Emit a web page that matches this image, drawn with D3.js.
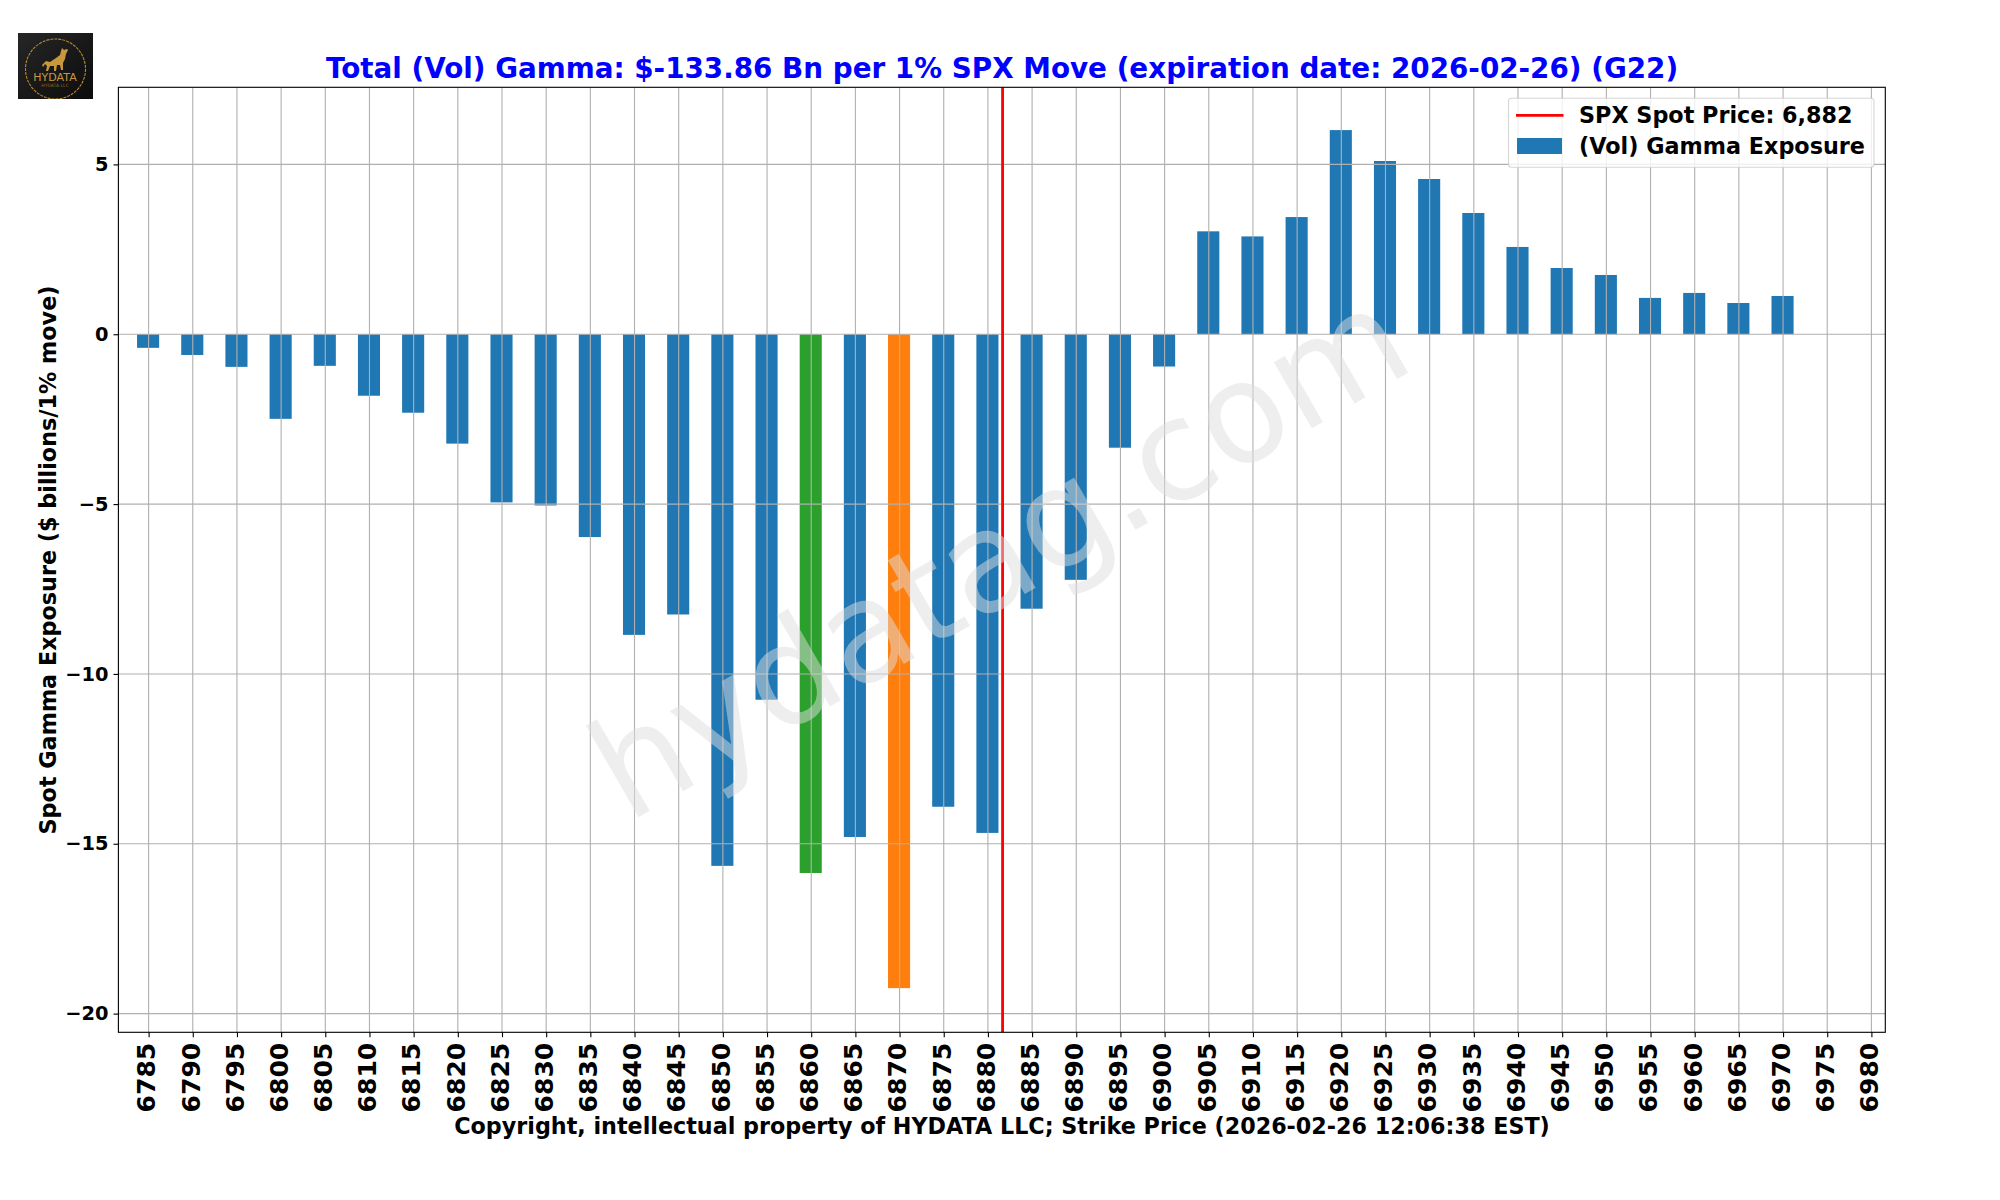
<!DOCTYPE html>
<html><head><meta charset="utf-8">
<script src="https://cdn.jsdelivr.net/npm/d3@7"></script>
<style>html,body{margin:0;padding:0;background:#fff}svg{display:block}text{font-family:"DejaVu Sans";font-weight:bold}</style>
</head><body><div id="chart"></div>
<script>
const strikes=[6785,6790,6795,6800,6805,6810,6815,6820,6825,6830,6835,6840,6845,6850,6855,6860,6865,6870,6875,6880,6885,6890,6895,6900,6905,6910,6915,6920,6925,6930,6935,6940,6945,6950,6955,6960,6965,6970,6975,6980];
const gamma=[-0.40,-0.61,-0.96,-2.49,-0.93,-1.81,-2.31,-3.22,-4.95,-5.04,-5.97,-8.85,-8.25,-15.65,-10.76,-15.86,-14.80,-19.25,-13.91,-14.68,-8.08,-7.23,-3.34,-0.95,3.03,2.88,3.45,6.01,5.10,4.57,3.57,2.57,1.95,1.745,1.07,1.216,0.92,1.127,0,0];
const yTicks=[-20,-15,-10,-5,0,5];
const spot=6881.66;
const putWall=6870, callWall=6860;
const titleText="Total (Vol) Gamma: $-133.86 Bn per 1% SPX Move (expiration date: 2026-02-26) (G22)";
const xLabelText="Copyright, intellectual property of HYDATA LLC; Strike Price (2026-02-26 12:06:38 EST)";
const yLabelText="Spot Gamma Exposure ($ billions/1% move)";
const legendLabels=["SPX Spot Price: 6,882","(Vol) Gamma Exposure"];

const W=2000,H=1200,L=118.4,R=1885.3,T=87.3,B=1032.3;
const svg=d3.select("#chart").append("svg").attr("width",W).attr("height",H);
const x=d3.scaleLinear().domain([6785,6980]).range([148.6,1871.4]);
const y=d3.scaleLinear().domain([-20.55,7.27]).range([B,T]);
const barW=(x(6790)-x(6785))*0.5;
const frameClip=svg.append("defs").append("clipPath").attr("id","frame");
frameClip.append("rect").attr("x",L).attr("y",T).attr("width",R-L).attr("height",B-T);

// bars
svg.append("g").attr("clip-path","url(#frame)").selectAll("rect").data(strikes).join("rect")
 .attr("x",d=>x(d)-barW/2-0.5).attr("width",barW)
 .attr("y",(d,i)=>y(Math.max(0,gamma[i])))
 .attr("height",(d,i)=>Math.abs(y(gamma[i])-y(0)))
 .attr("fill",d=>d===putWall?"#ff7f0e":d===callWall?"#2ca02c":"#1f77b4");

// grid
const grid=svg.append("g").attr("stroke","#b0b0b0").attr("stroke-width",1.11);
grid.selectAll("line.v").data(strikes).join("line").attr("class","v")
 .attr("x1",d=>x(d)).attr("x2",d=>x(d)).attr("y1",T).attr("y2",B);
grid.selectAll("line.h").data(yTicks).join("line").attr("class","h")
 .attr("x1",L).attr("x2",R).attr("y1",d=>y(d)).attr("y2",d=>y(d));

// spot
svg.append("line").attr("x1",x(spot)).attr("x2",x(spot)).attr("y1",T).attr("y2",B)
 .attr("stroke","#ff0000").attr("stroke-width",2.8);

// axes
const gx=svg.append("g").attr("transform",`translate(0,${B})`)
 .call(d3.axisBottom(x).tickValues(strikes).tickFormat(d3.format("d")).tickSize(4.9).tickSizeOuter(0));
gx.select(".domain").remove();
gx.selectAll("line").attr("stroke","#000").attr("stroke-width",1.11);
gx.selectAll("text").attr("x",0).attr("y",0).attr("dy",null)
 .attr("text-anchor","end").attr("dominant-baseline","central")
 .attr("transform",`translate(-2.2,10.5) rotate(-90)`)
 .style("font-size","25px").attr("fill","#000");
const gy=svg.append("g").attr("transform",`translate(${L},0)`)
 .call(d3.axisLeft(y).tickValues(yTicks).tickFormat(d3.format("d")).tickSize(4.9).tickSizeOuter(0));
gy.select(".domain").remove();
gy.selectAll("line").attr("stroke","#000").attr("stroke-width",1.11);
gy.selectAll("text").attr("x",-10).attr("fill","#000").style("font-size","19.4px");

// frame
svg.append("rect").attr("x",L).attr("y",T).attr("width",R-L).attr("height",B-T)
 .attr("fill","none").attr("stroke","#000").attr("stroke-width",1.11);

// watermark
svg.append("text").text("hydatag.com")
 .attr("transform","translate(1023,595) rotate(-30)").attr("text-anchor","middle")
 .style("font-weight","normal").style("font-size","139px").attr("fill","#dddddd").attr("fill-opacity",0.5);

// titles
svg.append("text").text(titleText).attr("x",1002).attr("y",78).attr("text-anchor","middle")
 .attr("fill","#0000ff").style("font-size","27.8px");
svg.append("text").text(xLabelText).attr("x",1002).attr("y",1133.5).attr("text-anchor","middle")
 .attr("fill","#000").style("font-size","22.25px");
svg.append("text").text(yLabelText).attr("transform","translate(55.5,560) rotate(-90)").attr("text-anchor","middle")
 .attr("fill","#000").style("font-size","22.3px");

// legend
const lg=svg.append("g");
lg.append("rect").attr("x",1508.5).attr("y",98.3).attr("width",365.5).attr("height",69).attr("rx",3)
 .attr("fill","#fff").attr("fill-opacity",0.8).attr("stroke","#cccccc").attr("stroke-opacity",0.8).attr("stroke-width",1.11);
lg.append("line").attr("x1",1516).attr("x2",1563.5).attr("y1",115.3).attr("y2",115.3).attr("stroke","#ff0000").attr("stroke-width",2.8);
lg.append("rect").attr("x",1517).attr("y",138).attr("width",45).attr("height",16).attr("fill","#1f77b4");
lg.selectAll("text").data(legendLabels).join("text").text(d=>d).attr("x",1579).attr("y",(d,i)=>i?154:122.7)
 .attr("fill","#000").style("font-size","22.3px");

// logo
const logo=svg.append("g").attr("transform","translate(10,25)");
const grad=svg.select("defs").append("linearGradient").attr("id","lg").attr("x1",0).attr("y1",0).attr("x2",1).attr("y2",1);
grad.append("stop").attr("offset",0).attr("stop-color","#262626");
grad.append("stop").attr("offset",1).attr("stop-color","#0c0c0c");
svg.select("defs").append("clipPath").attr("id","lc").append("rect").attr("x",8).attr("y",8).attr("width",75).attr("height",66);
logo.append("rect").attr("x",8).attr("y",8).attr("width",75).attr("height",66).attr("fill","url(#lg)");
logo.append("circle").attr("cx",45.5).attr("cy",44).attr("r",30).attr("fill","none").attr("stroke","#b8892f")
 .attr("stroke-width",1.1).attr("stroke-dasharray","3 1").attr("clip-path","url(#lc)");
logo.append("path").attr("d","M32 40L36 36L40 37L46 33L50 30L51 26L52 23L54 25L57 24L58 25L56 29L55 34L53 38L53 45L51 45L50 40L47 40L46 46L44 46L44 41L40 41L38 46L36 46L37 41L35 39L33 42Z").attr("fill","#c9983c");
logo.append("text").text("HYDATA").attr("x",45).attr("y",56).attr("text-anchor","middle").attr("fill","#c9983c")
 .style("font-size","11px").style("font-weight","normal");
logo.append("text").text("HYDATA LLC").attr("x",45).attr("y",62).attr("text-anchor","middle").attr("fill","#8a6a2a")
 .style("font-size","4.5px").style("font-weight","normal");
</script></body></html>
